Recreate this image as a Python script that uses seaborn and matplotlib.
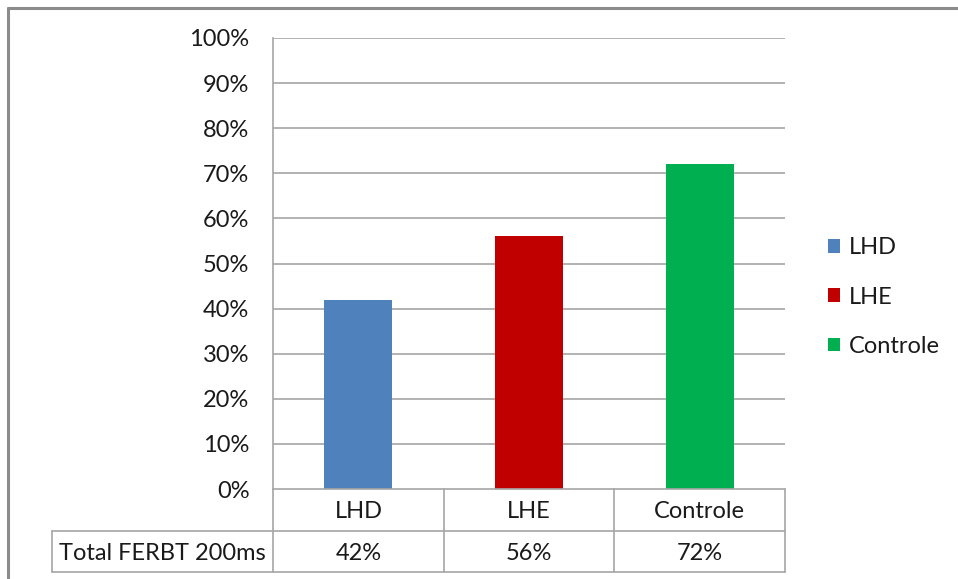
import matplotlib
matplotlib.use("Agg")
import matplotlib.pyplot as plt
import seaborn as sns
import pandas as pd
from matplotlib.patches import Patch
from matplotlib.lines import Line2D

categories = ["LHD", "LHE", "Controle"]
values = [42, 56, 72]
row_label = "Total FERBT 200ms"
colors = ["#4F81BD", "#C00000", "#00B050"]
yticks = list(range(0, 101, 10))

sns.set_theme(style="white")
plt.rcParams["font.family"] = ["Lato", "DejaVu Sans"]

W, H = 958, 579
fig = plt.figure(figsize=(W / 100, H / 100), dpi=100)

def fx(px):
    return px / W

def fy(py):
    return 1 - py / H

# plot area in pixel coordinates
L, R, T, B = 273, 785, 38, 489
ax = fig.add_axes([fx(L), fy(B), fx(R) - fx(L), fy(T) - fy(B)])

df = pd.DataFrame({"grupo": categories, "valor": values})
sns.barplot(data=df, x="grupo", y="valor", hue="grupo", palette=colors,
            width=0.4, ax=ax, legend=False, saturation=1, linewidth=0)

grid_c = "#A6A6A6"
text_c = "#1A1A1A"
fs = 17

ax.set_ylim(0, 100)
ax.set_xlim(-0.5, 2.5)
ax.set_yticks(yticks)
ax.set_yticklabels([f"{t}%" for t in yticks], fontsize=fs, color=text_c)
ax.tick_params(axis="y", length=0, pad=17)
ax.set_xticks([])
ax.set_xlabel("")
ax.set_ylabel("")
for t in yticks[1:]:
    ax.axhline(t, color=grid_c, lw=1.2, zorder=0)
for s in ["top", "right", "bottom"]:
    ax.spines[s].set_visible(False)
ax.spines["left"].set_color(grid_c)
ax.spines["left"].set_linewidth(1.2)

# data table below the plot
line_kw = dict(color=grid_c, lw=1.2, transform=fig.transFigure)
row1, row2 = 531, 572
col_edges = [273, 444, 614, 785]
fig.add_artist(Line2D([fx(L), fx(R)], [fy(B), fy(B)], **line_kw))
fig.add_artist(Line2D([fx(52), fx(R)], [fy(row1), fy(row1)], **line_kw))
fig.add_artist(Line2D([fx(52), fx(R)], [fy(row2), fy(row2)], **line_kw))
fig.add_artist(Line2D([fx(52), fx(52)], [fy(row1), fy(row2)], **line_kw))
for cx in col_edges:
    fig.add_artist(Line2D([fx(cx), fx(cx)], [fy(B), fy(row2)], **line_kw))

for i, (cat, v) in enumerate(zip(categories, values)):
    cx = (col_edges[i] + col_edges[i + 1]) / 2
    fig.text(fx(cx), fy((B + row1) / 2 + 1.5), cat, ha="center", va="center",
             fontsize=fs, color=text_c)
    fig.text(fx(cx), fy((row1 + row2) / 2 + 1.5), f"{v}%", ha="center",
             va="center", fontsize=fs, color=text_c)
fig.text(fx(162), fy((row1 + row2) / 2 + 1.5), row_label, ha="center",
         va="center", fontsize=fs, color=text_c)

# outer chart border (left and top edges)
border_kw = dict(color="#8C8C8C", lw=2.2, transform=fig.transFigure)
fig.add_artist(Line2D([fx(8), fx(8)], [fy(8), 0], **border_kw))
fig.add_artist(Line2D([fx(8), 1], [fy(8), fy(8)], **border_kw))

handles = [Patch(facecolor=c, edgecolor="none", label=l)
           for c, l in zip(colors, categories)]
fig.legend(handles=handles, loc="center left",
           bbox_to_anchor=(fx(828), fy(297)), frameon=False,
           fontsize=fs, labelcolor=text_c, handlelength=0.5, handleheight=0.5,
           handletextpad=0.4, labelspacing=1.2, borderaxespad=0, borderpad=0)

fig.savefig("out.png", dpi=100, facecolor="white")
